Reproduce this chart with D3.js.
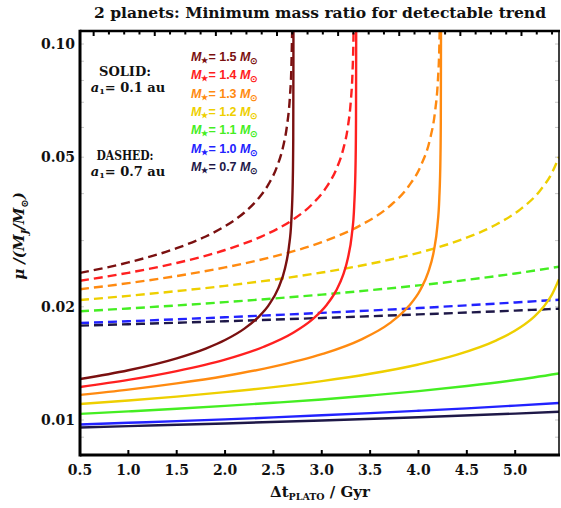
<!DOCTYPE html>
<html>
<head>
<meta charset="utf-8">
<style>
  body { margin: 0; background: #fff; }
  svg text { font-family: 'DejaVu Serif', serif; font-weight: bold; fill: #111; }
  .mlab { font-family: 'Liberation Sans', Arial, sans-serif; font-weight: bold; font-size: 12.5px; }
  .ticklab { font-size: 14px; }
</style>
</head>
<body>
<div id="vis"></div>
<script src="https://d3js.org/d3.v7.min.js"></script>
<script>
  // star masses (legend order) and their colours
  const masses = ['1.5', '1.4', '1.3', '1.2', '1.1', '1.0', '0.7']
  const colors = ['#7a1010', '#ff2020', '#ff8a10', '#eecf00', '#44ee22', '#2222ff', '#1e1848']

  // solid curves, a1 = 0.1 au  [dt (Gyr), mu]
  const solid15 = [[0.5, 0.01285], [1.0, 0.01356], [1.5, 0.01459], [1.8, 0.01549], [2.0, 0.01632], [2.2, 0.01750],
    [2.35, 0.01884], [2.45, 0.02018], [2.55, 0.02239], [2.62, 0.02534], [2.66, 0.02884], [2.685, 0.03382],
    [2.70, 0.04302], [2.705, 0.05597], [2.7068, 0.0907], [2.7072, 0.115]]
  const solid14 = [[0.5, 0.01224], [1.0, 0.01278], [1.5, 0.01349], [2.0, 0.01447], [2.4, 0.01566], [2.7, 0.01704],
    [2.9, 0.01849], [3.05, 0.02023], [3.15, 0.02212], [3.22, 0.02428], [3.27, 0.02692], [3.31, 0.03099],
    [3.335, 0.03697], [3.35, 0.04901], [3.354, 0.06273], [3.3558, 0.1054], [3.3562, 0.115]]
  const solid13 = [[0.5, 0.01166], [1.0, 0.01204], [1.5, 0.01251], [2.0, 0.01309], [2.5, 0.01386], [3.0, 0.01496],
    [3.4, 0.01634], [3.7, 0.01807], [3.9, 0.02009], [4.02, 0.02221], [4.1, 0.02469], [4.16, 0.02826],
    [4.195, 0.03273], [4.215, 0.03872], [4.227, 0.04958], [4.231, 0.06349], [4.2328, 0.1066], [4.2332, 0.115]]
  const solid12 = [[0.5, 0.01103], [1.0, 0.01127], [1.5, 0.01154], [2.0, 0.01186], [2.5, 0.01223], [3.0, 0.01269],
    [3.5, 0.01327], [4.0, 0.01405], [4.4, 0.01492], [4.8, 0.01626], [5.05, 0.01761], [5.2, 0.01887],
    [5.3, 0.02010], [5.38, 0.02155], [5.453, 0.02367]]
  const solid11 = [[0.5, 0.01038], [1.0, 0.01054], [1.5, 0.01071], [2.0, 0.01090], [2.5, 0.01111], [3.0, 0.01134],
    [3.5, 0.01162], [4.0, 0.01193], [4.5, 0.01231], [5.0, 0.01277], [5.453, 0.01330]]
  const solid10 = [[0.5, 0.00973], [1.0, 0.00983], [1.5, 0.00993], [2.0, 0.01004], [2.5, 0.01016], [3.0, 0.01029],
    [3.5, 0.01043], [4.0, 0.01058], [4.5, 0.01074], [5.0, 0.01092], [5.453, 0.01110]]
  const solid07 = [[0.5, 0.00955], [1.0, 0.00963], [2.0, 0.00979], [3.0, 0.00997], [4.0, 0.01017], [5.0, 0.01040],
    [5.453, 0.01052]]

  // dashed curves, a1 = 0.7 au
  const dashed15 = [[0.5, 0.02461], [1.0, 0.02625], [1.5, 0.02864], [1.8, 0.03077], [2.0, 0.03277], [2.2, 0.03564],
    [2.35, 0.03897], [2.45, 0.04239], [2.54, 0.04739], [2.6, 0.05330], [2.64, 0.06056], [2.67, 0.07202],
    [2.685, 0.08564], [2.695, 0.1127]]
  const dashed14 = [[0.5, 0.02346], [1.0, 0.02463], [1.5, 0.02616], [2.0, 0.02832], [2.4, 0.03096], [2.7, 0.03410],
    [2.9, 0.03747], [3.05, 0.04168], [3.15, 0.04643], [3.22, 0.05229], [3.27, 0.06025], [3.3, 0.07038],
    [3.318, 0.08431], [3.328, 0.1052], [3.331, 0.1209]]
  const dashed13 = [[0.5, 0.02227], [1.0, 0.02312], [1.5, 0.02415], [2.0, 0.02546], [2.5, 0.02720], [3.0, 0.02973],
    [3.4, 0.03294], [3.7, 0.03701], [3.9, 0.04190], [4.03, 0.04781], [4.12, 0.05595], [4.17, 0.06574],
    [4.2, 0.07940], [4.215, 0.09702], [4.222, 0.1185]]
  const dashed12 = [[0.5, 0.02085], [1.0, 0.02139], [1.5, 0.02202], [2.0, 0.02274], [2.5, 0.02361], [3.0, 0.02467],
    [3.5, 0.02602], [4.0, 0.02784], [4.4, 0.02990], [4.8, 0.03307], [5.05, 0.03628], [5.25, 0.04055],
    [5.38, 0.04541], [5.453, 0.05004]]
  const dashed11 = [[0.5, 0.01946], [1.0, 0.01980], [1.5, 0.02017], [2.0, 0.02058], [2.5, 0.02104], [3.0, 0.02155],
    [3.5, 0.02214], [4.0, 0.02280], [4.5, 0.02359], [5.0, 0.02453], [5.453, 0.02557]]
  const dashed10 = [[0.5, 0.01811], [1.0, 0.01831], [2.0, 0.01876], [3.0, 0.01927], [4.0, 0.01985], [5.0, 0.02054],
    [5.453, 0.02089]]
  const dashed07 = [[0.5, 0.01782], [1.0, 0.01798], [2.0, 0.01831], [3.0, 0.01868], [4.0, 0.01909], [5.0, 0.01954],
    [5.453, 0.01977]]

  const solids = [solid15, solid14, solid13, solid12, solid11, solid10, solid07]
  const dashes = [dashed15, dashed14, dashed13, dashed12, dashed11, dashed10, dashed07]

  // axis ticks
  const xTicks = [0.5, 1.0, 1.5, 2.0, 2.5, 3.0, 3.5, 4.0, 4.5, 5.0]
  const yTicks = [0.01, 0.02, 0.05, 0.1]
  const yTickLabels = ['0.01', '0.02', '0.05', '0.10']
  const yMinor = [0.009, 0.03, 0.04, 0.06, 0.07, 0.08, 0.09]

  const W = 561, H = 508
  const plot = {left: 80, right: 559, top: 31, bottom: 455}

  const x = d3.scaleLinear().domain([0.5, 5.453]).range([plot.left, plot.right])
  const y = d3.scaleLog().domain([0.00807, 0.1083]).range([plot.bottom, plot.top])

  const svg = d3.select('#vis').append('svg')
    .attr('width', W).attr('height', H)

  svg.append('clipPath').attr('id', 'clip')
    .append('rect')
    .attr('x', plot.left).attr('y', plot.top)
    .attr('width', plot.right - plot.left).attr('height', plot.bottom - plot.top)

  // title
  svg.append('text')
    .attr('x', 320).attr('y', 18)
    .attr('text-anchor', 'middle')
    .attr('font-size', 15.5)
    .attr('textLength', 452).attr('lengthAdjust', 'spacingAndGlyphs')
    .text('2 planets: Minimum mass ratio for detectable trend')

  // faint minor ticks on left and right
  const minor = svg.append('g').attr('stroke', '#c8c8c8').attr('stroke-width', 1)
  minor.selectAll('line.l').data(yMinor.concat(yTicks)).enter().append('line')
    .attr('x1', plot.left).attr('x2', plot.left + 4)
    .attr('y1', d => y(d)).attr('y2', d => y(d))
  minor.selectAll('line.r').data(yMinor.concat(yTicks)).enter().append('line')
    .attr('x1', plot.right - 4).attr('x2', plot.right)
    .attr('y1', d => y(d)).attr('y2', d => y(d))

  // curves
  const line = d3.line()
    .x(d => x(d[0]))
    .y(d => y(d[1]))
    .curve(d3.curveMonotoneX)

  const curves = svg.append('g').attr('clip-path', 'url(#clip)')
    .attr('fill', 'none')

  curves.selectAll('path.dash')
    .data(dashes)
    .enter().append('path')
    .attr('class', 'dash')
    .attr('d', line)
    .attr('stroke', (d, i) => colors[i])
    .attr('stroke-width', 2.4)
    .attr('stroke-dasharray', '9,5')

  curves.selectAll('path.solid')
    .data(solids)
    .enter().append('path')
    .attr('class', 'solid')
    .attr('d', line)
    .attr('stroke', (d, i) => colors[i])
    .attr('stroke-width', 2.4)

  // frame
  const frame = svg.append('g').attr('stroke', '#000')
  frame.append('line').attr('x1', plot.left).attr('x2', plot.right + 1)
    .attr('y1', plot.top).attr('y2', plot.top).attr('stroke-width', 2.5)
  frame.append('line').attr('x1', plot.right).attr('x2', plot.right)
    .attr('y1', plot.top).attr('y2', plot.bottom).attr('stroke-width', 1.5)
  frame.append('line').attr('x1', plot.left).attr('x2', plot.right + 1)
    .attr('y1', plot.bottom).attr('y2', plot.bottom).attr('stroke-width', 3)
  frame.append('line').attr('x1', plot.left).attr('x2', plot.left)
    .attr('y1', plot.top - 1.2).attr('y2', plot.bottom + 1.5).attr('stroke-width', 3)

  // bottom ticks + labels
  svg.append('g').selectAll('line')
    .data(xTicks.slice(1))
    .enter().append('line')
    .attr('x1', d => x(d)).attr('x2', d => x(d))
    .attr('y1', plot.bottom).attr('y2', plot.bottom - 5)
    .attr('stroke', '#000').attr('stroke-width', 2)

  svg.append('g').selectAll('text')
    .data(xTicks)
    .enter().append('text')
    .attr('class', 'ticklab')
    .attr('x', d => x(d)).attr('y', 475)
    .attr('text-anchor', 'middle')
    .text(d => d.toFixed(1))

  // top ticks (every 0.158, longer every fourth)
  const topTicks = d3.range(0, 31).map(i => 0.641 + i * 0.158).filter(d => d < 5.44)
  svg.append('g').selectAll('line')
    .data(topTicks)
    .enter().append('line')
    .attr('x1', d => x(d)).attr('x2', d => x(d))
    .attr('y1', plot.top).attr('y2', (d, i) => plot.top + (i % 4 === 0 ? 5 : 3.5))
    .attr('stroke', '#000').attr('stroke-width', 2)

  // left labels
  svg.append('g').selectAll('text')
    .data(yTicks)
    .enter().append('text')
    .attr('class', 'ticklab')
    .attr('x', 75).attr('y', d => y(d) + 5)
    .attr('text-anchor', 'end')
    .text((d, i) => yTickLabels[i])

  // y axis title
  const yt = svg.append('text')
    .attr('transform', 'translate(24,236) rotate(-90)')
    .attr('text-anchor', 'middle')
    .attr('font-size', 15)
    .attr('font-style', 'italic')
  yt.append('tspan').text('\u03bc /(M')
  yt.append('tspan').attr('font-size', 10).attr('dy', 4).text('J')
  yt.append('tspan').attr('dy', -4).text('/M')
  yt.append('tspan').attr('font-size', 10).attr('dy', 4).text('\u2299')
  yt.append('tspan').attr('dy', -4).text(')')

  // x axis title
  const xt = svg.append('text')
    .attr('x', 320).attr('y', 497)
    .attr('text-anchor', 'middle')
    .attr('font-size', 15)
  xt.append('tspan').text('\u0394t')
  xt.append('tspan').attr('font-size', 9.5).attr('dy', 3).text('PLATO')
  xt.append('tspan').attr('dy', -3).text(' / Gyr')

  // SOLID / DASHED notes
  const notes = [
    {lab: 'SOLID:', a: '0.1', y: 72},
    {lab: 'DASHED:', a: '0.7', y: 156}
  ]
  notes.forEach(n => {
    svg.append('text').attr('x', 125).attr('y', n.y + 4)
      .attr('text-anchor', 'middle').attr('font-size', 12.5)
      .attr('textLength', n.lab.length > 6 ? 57 : 52).attr('lengthAdjust', 'spacingAndGlyphs')
      .text(n.lab)
    const t = svg.append('text').attr('x', 128).attr('y', n.y + 20)
      .attr('text-anchor', 'middle').attr('font-size', 13)
    t.append('tspan').attr('font-style', 'italic').text('a')
    t.append('tspan').attr('font-size', 8).attr('dy', 2).text('1')
    t.append('tspan').attr('dy', -2).text('= ' + n.a + ' au')
  })

  // mass labels
  const leg = svg.append('g')
  masses.forEach((m, i) => {
    const t = leg.append('text')
      .attr('class', 'mlab')
      .attr('x', 191).attr('y', 61 + i * 18.3)
      .style('fill', colors[i])
    t.append('tspan').attr('font-style', 'italic').text('M')
    t.append('tspan').attr('font-size', 7.5).attr('dy', 2).text('\u2605')
    t.append('tspan').attr('dy', -2).text('= ' + m + ' ')
    t.append('tspan').attr('font-style', 'italic').text('M')
    t.append('tspan').attr('font-size', 9).attr('dy', 3).text('\u2299')
  })
</script>
</body>
</html>
